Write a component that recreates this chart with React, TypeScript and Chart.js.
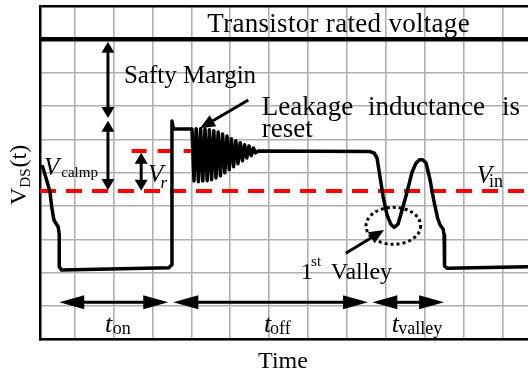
import React, { useEffect, useRef } from "react";
import { Chart, registerables } from "chart.js";

Chart.register(...registerables);

// Waveform V_DS(t) in grid units (x: time divisions, y: voltage divisions)
const waveX = [
  -0.823, -0.72, -0.635, -0.591, -0.532, -0.422, -0.396, -0.396, -0.339, 2.424, 2.488, 2.501, 2.54, 3.015,
  3.067, 3.123, 3.18, 3.237, 3.293, 3.35, 3.406, 3.463, 3.519, 3.576, 3.632, 3.689, 3.746, 3.802, 3.859,
  3.915, 3.972, 4.028, 4.085, 4.141, 4.198, 4.254, 4.311, 4.368, 4.424, 4.481, 4.537, 4.594, 4.65, 4.712,
  7.591, 7.694, 7.771, 7.848, 7.933, 8.028, 8.131, 8.216, 8.311, 8.414, 8.543, 8.671, 8.774, 8.864, 8.941,
  9.031, 9.134, 9.237, 9.326, 9.391, 9.468, 9.494, 9.506, 9.571, 11.653,
];
const waveY = [
  5.18, 4.78, 4.43, 3.98, 3.58, 3.37, 3.16, 2.18, 2.08, 2.15, 2.23, 6.55, 6.31, 6.31,
  4.75, 6.32, 4.73, 6.32, 4.75, 6.31, 4.76, 6.29, 4.79, 6.26, 4.84, 6.22, 4.91, 6.16, 5.0,
  6.1, 5.09, 6.02, 5.18, 5.96, 5.27, 5.9, 5.36, 5.84, 5.44, 5.8, 5.51, 5.74, 5.59, 5.65,
  5.634, 5.59, 5.44, 4.87, 4.24, 3.73, 3.44, 3.36, 3.46, 3.88, 4.42, 5.02, 5.29, 5.39, 5.39,
  5.29, 4.78, 4.12, 3.64, 3.43, 3.31, 3.13, 2.2, 2.13, 2.18,
];

// Reference levels
const ratedLevel = 9;
const clampLevel = 5.65;
const inputLevel = 4.45;
const clampSpan = [1.465, 4.71];
const xRange = [-0.89, 11.65];
const xGrid = [0, 1, 2, 3, 4, 5, 6, 7, 8, 9, 10, 11];
const yGrid = [0, 1, 2, 3, 4, 5, 6, 7, 8, 9, 10];

// Annotation arrows (grid units)
const vDoubleArrows = [
  { x: 0.856, y1: 8.93, y2: 6.64 },
  { x: 0.856, y1: 6.56, y2: 4.48 },
  { x: 1.71, y1: 5.6, y2: 4.46 },
];
const hDoubleArrows = [
  { y: 1.11, x1: -0.396, x2: 2.406 },
  { y: 1.11, x1: 2.535, x2: 7.54 },
  { y: 1.11, x1: 7.65, x2: 9.494 },
];
const pointerArrows = [
  { x1: 4.463, y1: 7.18, x2: 3.221, y2: 6.33 },
  { x1: 6.967, y1: 2.58, x2: 7.951, y2: 3.28 },
];
const valleyMark = { x: 8.19, y: 3.405, rx: 0.702, ry: 0.555 };

type Run = { t: string; x: number; y: number; size: number; italic?: boolean; spacing?: number };
const labels: Run[] = [
  { t: "Transistor rated voltage", x: 3.409, y: 9.21, size: 27, spacing: 0.3 },
  { t: "Safty Margin", x: 1.267, y: 7.68, size: 25 },
  { t: "Leakage", x: 4.807, y: 6.73, size: 27 },
  { t: "inductance", x: 7.54, y: 6.73, size: 27 },
  { t: "is", x: 10.98, y: 6.73, size: 27 },
  { t: "reset", x: 4.807, y: 6.055, size: 27 },
  { t: "V", x: -0.789, y: 4.93, size: 25, italic: true },
  { t: "calmp", x: -0.344, y: 4.87, size: 15 },
  { t: "V", x: 1.884, y: 4.72, size: 25, italic: true },
  { t: "r", x: 2.206, y: 4.54, size: 17, italic: true },
  { t: "V", x: 10.334, y: 4.68, size: 25, italic: true },
  { t: "in", x: 10.65, y: 4.57, size: 18 },
  { t: "1", x: 5.81, y: 1.8, size: 24 },
  { t: "st", x: 6.075, y: 2.2, size: 15 },
  { t: "Valley", x: 6.581, y: 1.8, size: 24 },
  { t: "t", x: 0.779, y: 0.228, size: 26, italic: true },
  { t: "on", x: 0.977, y: 0.174, size: 18 },
  { t: "t", x: 4.866, y: 0.228, size: 26, italic: true },
  { t: "off", x: 5.021, y: 0.174, size: 18 },
  { t: "t", x: 8.149, y: 0.228, size: 26, italic: true },
  { t: "valley", x: 8.319, y: 0.174, size: 18 },
];
const xTitle = { t: "Time", x: 5.355, y: -0.87, size: 24 };
const yTitle = { x: -1.244, y: 4.03 };

const FONT = '"Liberation Serif", "Times New Roman", serif';

function head(ctx: CanvasRenderingContext2D, tx: number, ty: number, dx: number, dy: number, len: number, w: number) {
  const n = Math.hypot(dx, dy) || 1;
  const ux = dx / n, uy = dy / n;
  const bx = tx - ux * len, by = ty - uy * len;
  ctx.beginPath();
  ctx.moveTo(tx, ty);
  ctx.lineTo(bx - uy * w / 2, by + ux * w / 2);
  ctx.lineTo(bx + uy * w / 2, by - ux * w / 2);
  ctx.closePath();
  ctx.fill();
}

function seg(ctx: CanvasRenderingContext2D, x1: number, y1: number, x2: number, y2: number) {
  ctx.beginPath();
  ctx.moveTo(x1, y1);
  ctx.lineTo(x2, y2);
  ctx.stroke();
}

const annotate = {
  id: "annotate",
  afterDraw(chart: any) {
    const ctx: CanvasRenderingContext2D = chart.ctx;
    const sx = chart.scales.x, sy = chart.scales.y;
    const px = (v: number) => sx.getPixelForValue(v);
    const py = (v: number) => sy.getPixelForValue(v);
    ctx.save();
    ctx.fillStyle = "#000";
    ctx.strokeStyle = "#000";
    ctx.lineWidth = 3;
    ctx.lineCap = "butt";

    vDoubleArrows.forEach((a) => {
      const x = px(a.x), y1 = py(a.y1), y2 = py(a.y2);
      const L = 11, W = 13;
      seg(ctx, x, y1 + L - 1, x, y2 - L + 1);
      head(ctx, x, y1, 0, -1, L, W);
      head(ctx, x, y2, 0, 1, L, W);
    });
    hDoubleArrows.forEach((a) => {
      const y = py(a.y), x1 = px(a.x1), x2 = px(a.x2);
      const L = 25, W = 14;
      seg(ctx, x1 + L - 1, y, x2 - L + 1, y);
      head(ctx, x1, y, -1, 0, L, W);
      head(ctx, x2, y, 1, 0, L, W);
    });
    pointerArrows.forEach((a) => {
      const x1 = px(a.x1), y1 = py(a.y1), x2 = px(a.x2), y2 = py(a.y2);
      const dx = x2 - x1, dy = y2 - y1;
      const n = Math.hypot(dx, dy);
      const L = 15, W = 13;
      seg(ctx, x1, y1, x2 - (dx / n) * (L - 1), y2 - (dy / n) * (L - 1));
      head(ctx, x2, y2, dx, dy, L, W);
    });

    // dotted ellipse around the first valley
    ctx.save();
    ctx.setLineDash([3, 3]);
    ctx.lineWidth = 3;
    ctx.beginPath();
    const cx = px(valleyMark.x), cy = py(valleyMark.y);
    ctx.ellipse(cx, cy, Math.abs(px(valleyMark.x + valleyMark.rx) - cx), Math.abs(py(valleyMark.y + valleyMark.ry) - cy), 0, 0, Math.PI * 2);
    ctx.stroke();
    ctx.restore();

    ctx.textBaseline = "alphabetic";
    ctx.textAlign = "left";
    labels.forEach((r) => {
      ctx.font = `${r.italic ? "italic " : ""}${r.size}px ${FONT}`;
      (ctx as any).letterSpacing = `${r.spacing || 0}px`;
      ctx.fillText(r.t, px(r.x), py(r.y));
    });
    (ctx as any).letterSpacing = "0px";

    ctx.textAlign = "center";
    ctx.font = `${xTitle.size}px ${FONT}`;
    ctx.fillText(xTitle.t, px(xTitle.x), py(xTitle.y));

    // rotated y title V_DS(t)
    ctx.save();
    ctx.translate(px(yTitle.x), py(yTitle.y));
    ctx.rotate(-Math.PI / 2);
    ctx.textAlign = "left";
    ctx.font = `24px ${FONT}`;
    ctx.fillText("V", 0, 0);
    let off = ctx.measureText("V").width;
    ctx.font = `15px ${FONT}`;
    ctx.fillText("DS", off, 4);
    off += ctx.measureText("DS").width + 1;
    ctx.font = `24px ${FONT}`;
    ctx.fillText("(t)", off, 0);
    ctx.restore();

    ctx.restore();
  },
};

export default function App() {
  const ref = useRef<HTMLCanvasElement | null>(null);
  useEffect(() => {
    if (!ref.current) return;
    const wave = waveX.map((x, i) => ({ x, y: waveY[i] }));
    const chart = new Chart(ref.current, {
      type: "line",
      data: {
        datasets: [
          {
            label: "V_DS",
            data: wave,
            borderColor: "#000",
            borderWidth: 3.5,
            pointRadius: 0,
            tension: 0,
            borderJoinStyle: "round",
            borderCapStyle: "round",
            order: 0,
          },
          {
            label: "Transistor rated voltage",
            data: [{ x: xRange[0], y: ratedLevel }, { x: xRange[1], y: ratedLevel }],
            borderColor: "#000",
            borderWidth: 4.5,
            pointRadius: 0,
            order: 1,
          },
          {
            label: "V_in",
            data: [{ x: xRange[0], y: inputLevel }, { x: xRange[1], y: inputLevel }],
            borderColor: "#ff0000",
            borderWidth: 4,
            borderDash: [16, 10],
            pointRadius: 0,
            order: 2,
          },
          {
            label: "V_clamp",
            data: [{ x: clampSpan[0], y: clampLevel }, { x: clampSpan[1], y: clampLevel }],
            borderColor: "#ff0000",
            borderWidth: 4,
            borderDash: [15, 11],
            pointRadius: 0,
            order: 3,
          },
        ],
      },
      options: {
        responsive: false,
        animation: false,
        parsing: true,
        layout: { padding: { left: 40, top: 6, right: 0, bottom: 36.7 } },
        plugins: { legend: { display: false }, tooltip: { enabled: false }, title: { display: false } },
        scales: {
          x: {
            type: "linear",
            min: xRange[0],
            max: xRange[1],
            afterBuildTicks: (s: any) => {
              s.ticks = xGrid.map((v) => ({ value: v }));
            },
            ticks: { display: false },
            grid: { color: "#b0b0b0", lineWidth: 1.6, drawTicks: false },
            border: { display: true, color: "#000", width: 2.5 },
          },
          y: {
            type: "linear",
            min: 0,
            max: 10,
            afterBuildTicks: (s: any) => {
              s.ticks = yGrid.map((v) => ({ value: v }));
            },
            ticks: { display: false },
            grid: {
              color: (c: any) => (c.tick && c.tick.value === 10 ? "#000" : "#b0b0b0"),
              lineWidth: (c: any) => (c.tick && c.tick.value === 10 ? 2.5 : 1.6),
              drawTicks: false,
            },
            border: { display: true, color: "#000", width: 2.5 },
          },
        },
      },
      plugins: [annotate],
    } as any);
    return () => chart.destroy();
  }, []);
  return (
    <div style={{ position: "absolute", left: 0, top: 0, width: 528, height: 376, background: "#fff" }}>
      <canvas ref={ref} width={528} height={376} style={{ width: 528, height: 376, display: "block" }} />
    </div>
  );
}
